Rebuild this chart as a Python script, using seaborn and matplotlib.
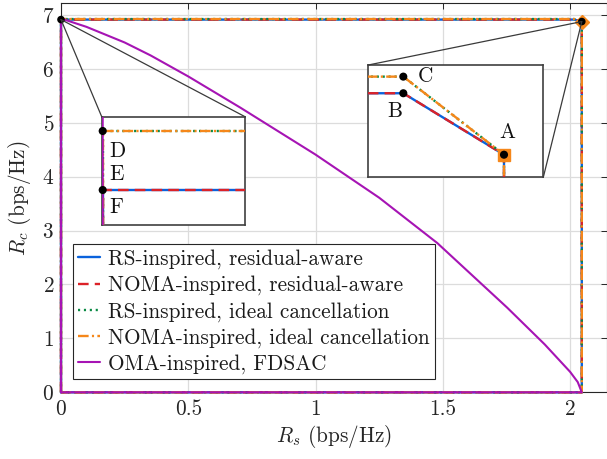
import numpy as np
import pandas as pd
import matplotlib
matplotlib.use("Agg")
import matplotlib.pyplot as plt
import seaborn as sns
from matplotlib.patches import ConnectionPatch

# ---------------- data ----------------
rs_max = 2.046          # R_s at corner A
b_x = 2.016             # R_s at corners B / C
rc_top_resid = 6.915    # common-rate max, residual-aware (E / B)
rc_top_ideal = 6.925    # common-rate max, ideal cancellation (D / C)
rc_at_A = 6.878         # R_c at corner A

region_x = [0, 0, b_x, rs_max, rs_max, 0]
resid_y = [0, rc_top_resid, rc_top_resid, rc_at_A, 0, 0]
ideal_y = [0, rc_top_ideal, rc_top_ideal, rc_at_A, 0, 0]

oma_x = [0, 0, 0.1, 0.25, 0.352, 0.5, 0.705, 1.0, 1.25, 1.478, 1.753, 1.9, 2.0, 2.03, 2.046, 0]
oma_y = [0, 6.935, 6.78, 6.49, 6.25, 5.86, 5.28, 4.41, 3.61, 2.77, 1.57, 0.89, 0.38, 0.19, 0, 0]

labels = ["RS-inspired, residual-aware", "NOMA-inspired, residual-aware",
          "RS-inspired, ideal cancellation", "NOMA-inspired, ideal cancellation",
          "OMA-inspired, FDSAC"]
xs = [region_x, region_x, region_x, region_x, oma_x]
ys = [resid_y, resid_y, ideal_y, ideal_y, oma_y]

x_ticks = [0, 0.5, 1, 1.5, 2]
x_ticklabels = ["0", "0.5", "1", "1.5", "2"]
y_ticks = [0, 1, 2, 3, 4, 5, 6, 7]

# ---------------- styles ----------------
colors = ["#0a62dc", "#dc2228", "#0a8a44", "#f5871a", "#a614b4"]
styles = ["-", (0, (4.5, 2.6)), (0, (0.9, 1.6)), (0, (4.5, 1.4, 0.9, 1.4)), "-"]
widths = [1.7, 1.7, 1.7, 1.7, 1.5]
FS = 15.3

sns.set_theme(style="whitegrid")
plt.rcParams["font.family"] = ["cmr10", "DejaVu Serif"]
plt.rcParams["mathtext.fontset"] = "cm"
plt.rcParams["axes.formatter.use_mathtext"] = True
plt.rcParams["axes.unicode_minus"] = False

dfs = []
for lab, x, y in zip(labels, xs, ys):
    dfs.append(pd.DataFrame({"Rs": x, "Rc": y, "series": lab, "order": np.arange(len(x))}))
df = pd.concat(dfs, ignore_index=True)

fig = plt.figure(figsize=(6.07, 4.59), dpi=100)
W, H = 607.0, 459.0
ax = fig.add_axes([61 / W, 1 - 392.3 / H, 546 / W, 389 / H])


def draw_series(a, with_label, clip):
    for lab, c, ls, lw in zip(labels, colors, styles, widths):
        sub = df[df["series"] == lab]
        sns.lineplot(data=sub, x="Rs", y="Rc", sort=False, estimator=None, ax=a,
                     color=c, linestyle=ls, linewidth=lw, zorder=3, clip_on=clip,
                     label=lab if with_label else None, legend=False)


draw_series(ax, True, False)

ax.plot([rs_max], [rc_at_A], marker="D", ms=7, color=colors[3], ls="none", zorder=5)
sns.scatterplot(x=[0, rs_max], y=[rc_top_resid, rc_at_A], ax=ax, color="black", s=30,
                edgecolor="none", zorder=6, legend=False, clip_on=False)

ax.set_xlim(0, 2.145)
ax.set_ylim(0, 7.217)
ax.set_xticks(x_ticks)
ax.set_xticklabels(x_ticklabels)
ax.set_yticks(y_ticks)
ax.grid(True, color="#dcdcdc", linewidth=0.9)
ax.set_axisbelow(True)
ax.tick_params(direction="in", top=True, right=True, length=4, width=0.7,
               colors="#262626", labelsize=FS, labelcolor="#262626", pad=5)
for s in ax.spines.values():
    s.set_color("#262626")
    s.set_linewidth(0.8)
ax.set_xlabel(r"$R_s$ (bps/Hz)", fontsize=FS, color="#262626", labelpad=3)
ax.set_ylabel(r"$R_c$ (bps/Hz)", fontsize=FS, color="#262626", labelpad=6)

handles, labs = ax.get_legend_handles_labels()
leg = ax.legend(handles, labs, loc="lower left", bbox_to_anchor=(0.022, 0.033),
                fontsize=FS, frameon=True, fancybox=False, framealpha=1,
                edgecolor="#262626", handlelength=1.0, handletextpad=0.4,
                labelspacing=0.3, borderpad=0.25, borderaxespad=0)
leg.get_frame().set_linewidth(0.8)
leg.set_zorder(10)
for t in leg.get_texts():
    t.set_color("#1a1a1a")

# ---------------- left inset ----------------
ax1 = fig.add_axes([101.7 / W, 1 - 225 / H, 143.3 / W, 108.3 / H])
draw_series(ax1, False, True)
sns.scatterplot(x=[0, 0], y=[rc_top_ideal, rc_top_resid], ax=ax1, color="black",
                s=34, edgecolor="none", zorder=6, legend=False, clip_on=False)
ax1.set_xlim(-7e-6, 1e-3)
ax1.set_ylim(6.90907, 6.92742)

# ---------------- right inset ----------------
ax2 = fig.add_axes([368.3 / W, 1 - 177.3 / H, 175 / W, 112.3 / H])
draw_series(ax2, False, True)
ax2.plot([rs_max], [rc_at_A], marker="s", ms=9, color=colors[3], ls="none", zorder=5)
sns.scatterplot(x=[b_x, b_x, rs_max], y=[rc_top_resid, rc_top_ideal, rc_at_A], ax=ax2,
                color="black", s=34, edgecolor="none", zorder=6, legend=False)
ax2.set_xlim(2.00557, 2.05771)
ax2.set_ylim(6.8644, 6.9320)

for a in (ax1, ax2):
    a.set_xticks([])
    a.set_yticks([])
    a.set_xlabel("")
    a.set_ylabel("")
    a.grid(False)
    a.set_facecolor("white")
    for s in a.spines.values():
        s.set_color("#404040")
        s.set_linewidth(1.2)

txt_kw = dict(fontsize=FS, color="#111111", va="center", ha="center")
ax1.text(0.107, 0.683, "D", transform=ax1.transAxes, **txt_kw)
ax1.text(0.103, 0.471, "E", transform=ax1.transAxes, **txt_kw)
ax1.text(0.103, 0.166, "F", transform=ax1.transAxes, **txt_kw)
ax2.text(0.324, 0.898, "C", transform=ax2.transAxes, **txt_kw)
ax2.text(0.153, 0.586, "B", transform=ax2.transAxes, **txt_kw)
ax2.text(0.793, 0.399, "A", transform=ax2.transAxes, **txt_kw)

# ---------------- connector lines ----------------
for corner in [(0, 1), (1, 1)]:
    con = ConnectionPatch(xyA=corner, coordsA=ax1.transAxes,
                          xyB=(0, rc_top_resid), coordsB=ax.transData,
                          color="#3a3a3a", linewidth=0.9)
    fig.add_artist(con)
for corner in [(0, 1), (1, 0)]:
    con = ConnectionPatch(xyA=corner, coordsA=ax2.transAxes,
                          xyB=(rs_max, rc_at_A), coordsB=ax.transData,
                          color="#3a3a3a", linewidth=0.9)
    fig.add_artist(con)

fig.savefig("out.png", dpi=100)
